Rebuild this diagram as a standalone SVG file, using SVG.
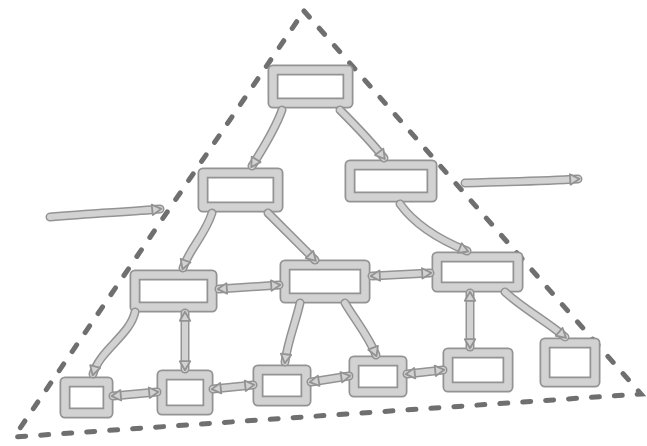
<svg xmlns="http://www.w3.org/2000/svg" xmlns:xlink="http://www.w3.org/1999/xlink" width="647" height="446" viewBox="0 0 647 446">
<style>
.bo{fill:#fff;stroke:#939393;stroke-width:11;stroke-linejoin:round}
.bi{fill:none;stroke:#d2d2d2;stroke-width:7.5;stroke-linejoin:round}
.co{fill:none;stroke:#939393;stroke-width:9;stroke-linecap:round}
.ci{fill:none;stroke:#d2d2d2;stroke-width:6;stroke-linecap:round}
.tri{fill:none;stroke:#6f6f6f;stroke-width:5;stroke-dasharray:8 15;stroke-linecap:round}
</style>
<defs>
<marker id="ah" viewBox="0 0 10 10" refX="7" refY="5" markerWidth="13" markerHeight="13" markerUnits="userSpaceOnUse" orient="auto-start-reverse">
<path d="M1,1 L8,5 L1,9 Z" fill="#d2d2d2" stroke="#939393" stroke-width="1.4" stroke-linejoin="round"/>
</marker>
<path id="p1" d="M282,110 C275,130 262,150 252,166"/>
<path id="p2" d="M340,110 C355,125 370,140 384,158"/>
<path id="p3" d="M50,217 C90,213 130,212 160,209"/>
<path id="p4" d="M465,183 C505,182 545,181 578,179"/>
<path id="p5" d="M212,213 C205,235 190,248 183,268"/>
<path id="p6" d="M268,213 C285,230 300,245 315,260"/>
<path id="p7" d="M400,204 C415,225 440,240 467,251"/>
<path id="p8" d="M219,289 L279,285"/>
<path id="p9" d="M372,276 L430,273"/>
<path id="p10" d="M135,312 C130,335 100,350 93,374"/>
<path id="p11" d="M185,313 L185,369"/>
<path id="p12" d="M300,303 C295,325 288,340 285,362"/>
<path id="p13" d="M345,303 C355,320 368,335 376,355"/>
<path id="p14" d="M470,293 L470,347"/>
<path id="p15" d="M505,292 C525,310 548,322 565,337"/>
<path id="p16" d="M113,396 L157,392"/>
<path id="p17" d="M213,389 L253,385"/>
<path id="p18" d="M311,382 L349,376"/>
<path id="p19" d="M407,374 L443,370"/>
</defs>
<path class="tri" d="M304,11 L641,394 Q330,415 14,437 Z"/>
<g id="n1"><rect class="bo" x="273" y="70" width="75" height="33"/><rect class="bi" x="273" y="70" width="75" height="33"/></g>
<g id="n2"><rect class="bo" x="203" y="173" width="75" height="34"/><rect class="bi" x="203" y="173" width="75" height="34"/></g>
<g id="n3"><rect class="bo" x="350" y="165" width="82" height="32"/><rect class="bi" x="350" y="165" width="82" height="32"/></g>
<g id="n4"><rect class="bo" x="135" y="275" width="77" height="32"/><rect class="bi" x="135" y="275" width="77" height="32"/></g>
<g id="n5"><rect class="bo" x="285" y="265" width="80" height="33"/><rect class="bi" x="285" y="265" width="80" height="33"/></g>
<g id="n6"><rect class="bo" x="437" y="257" width="81" height="30"/><rect class="bi" x="437" y="257" width="81" height="30"/></g>
<g id="b1"><rect class="bo" x="65" y="382" width="43" height="31"/><rect class="bi" x="65" y="382" width="43" height="31"/></g>
<g id="b2"><rect class="bo" x="162" y="375" width="46" height="35"/><rect class="bi" x="162" y="375" width="46" height="35"/></g>
<g id="b3"><rect class="bo" x="258" y="370" width="48" height="31"/><rect class="bi" x="258" y="370" width="48" height="31"/></g>
<g id="b4"><rect class="bo" x="354" y="361" width="48" height="31"/><rect class="bi" x="354" y="361" width="48" height="31"/></g>
<g id="b5"><rect class="bo" x="448" y="353" width="60" height="34"/><rect class="bi" x="448" y="353" width="60" height="34"/></g>
<g id="b6"><rect class="bo" x="545" y="343" width="50" height="39"/><rect class="bi" x="545" y="343" width="50" height="39"/></g>
<g id="connectors">
<use class="co" xlink:href="#p1"/><use class="ci" xlink:href="#p1" marker-end="url(#ah)"/>
<use class="co" xlink:href="#p2"/><use class="ci" xlink:href="#p2" marker-end="url(#ah)"/>
<use class="co" xlink:href="#p3"/><use class="ci" xlink:href="#p3" marker-end="url(#ah)"/>
<use class="co" xlink:href="#p4"/><use class="ci" xlink:href="#p4" marker-end="url(#ah)"/>
<use class="co" xlink:href="#p5"/><use class="ci" xlink:href="#p5" marker-end="url(#ah)"/>
<use class="co" xlink:href="#p6"/><use class="ci" xlink:href="#p6" marker-end="url(#ah)"/>
<use class="co" xlink:href="#p7"/><use class="ci" xlink:href="#p7" marker-end="url(#ah)"/>
<use class="co" xlink:href="#p8"/><use class="ci" xlink:href="#p8" marker-start="url(#ah)" marker-end="url(#ah)"/>
<use class="co" xlink:href="#p9"/><use class="ci" xlink:href="#p9" marker-start="url(#ah)" marker-end="url(#ah)"/>
<use class="co" xlink:href="#p10"/><use class="ci" xlink:href="#p10" marker-end="url(#ah)"/>
<use class="co" xlink:href="#p11"/><use class="ci" xlink:href="#p11" marker-start="url(#ah)" marker-end="url(#ah)"/>
<use class="co" xlink:href="#p12"/><use class="ci" xlink:href="#p12" marker-end="url(#ah)"/>
<use class="co" xlink:href="#p13"/><use class="ci" xlink:href="#p13" marker-end="url(#ah)"/>
<use class="co" xlink:href="#p14"/><use class="ci" xlink:href="#p14" marker-start="url(#ah)" marker-end="url(#ah)"/>
<use class="co" xlink:href="#p15"/><use class="ci" xlink:href="#p15" marker-end="url(#ah)"/>
<use class="co" xlink:href="#p16"/><use class="ci" xlink:href="#p16" marker-start="url(#ah)" marker-end="url(#ah)"/>
<use class="co" xlink:href="#p17"/><use class="ci" xlink:href="#p17" marker-start="url(#ah)" marker-end="url(#ah)"/>
<use class="co" xlink:href="#p18"/><use class="ci" xlink:href="#p18" marker-start="url(#ah)" marker-end="url(#ah)"/>
<use class="co" xlink:href="#p19"/><use class="ci" xlink:href="#p19" marker-start="url(#ah)" marker-end="url(#ah)"/>
</g>
</svg>
